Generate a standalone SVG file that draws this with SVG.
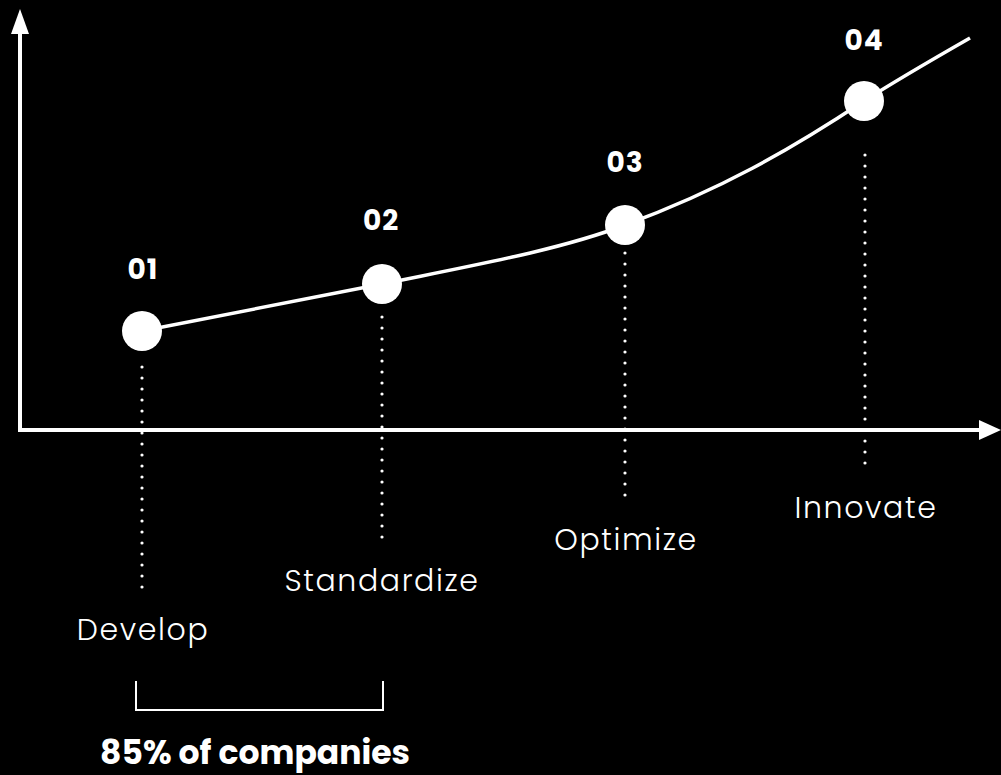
<svg xmlns="http://www.w3.org/2000/svg" width="1001" height="775" viewBox="0 0 1001 775">
<style>
.axis{stroke:#fff;stroke-width:4;fill:none}
.curve{stroke:#fff;stroke-width:3.5;fill:none}
.dots{stroke:#fff;stroke-width:3.2;stroke-linecap:round;stroke-dasharray:0 11;fill:none}
.node{fill:#fff}
.num{font-family:"Poppins","Inter","Liberation Sans",sans-serif;font-weight:700;font-size:28px;fill:#fff;text-anchor:middle;letter-spacing:1px}
.lbl{font-family:"Poppins","Inter","Liberation Sans",sans-serif;font-weight:300;font-size:30px;fill:#fff;text-anchor:middle;letter-spacing:1.6px}
.note{font-family:"Poppins","Inter","Liberation Sans",sans-serif;font-weight:700;font-size:33px;fill:#fff;text-anchor:middle}
</style>
<rect width="1001" height="775" fill="#000"/>
<g id="axes">
<line class="axis" x1="20" y1="430" x2="20" y2="30"/>
<polygon points="20,9 11,34 29,34" fill="#fff"/>
<line class="axis" x1="18" y1="430" x2="982" y2="430"/>
<polygon points="1001,430 979,420 979,440" fill="#fff"/>
</g>
<g id="connectors">
<path class="curve" d="M142,331 L382,284 C470,266 560,250 625,225 C720,190 790,150 864,101 C900,78 935,58 970,38"/>
<line class="dots" x1="142" y1="367" x2="142" y2="592"/>
<line class="dots" x1="382" y1="317" x2="382" y2="542"/>
<line class="dots" x1="625" y1="253" x2="625" y2="506"/>
<line class="dots" x1="865" y1="155" x2="865" y2="470"/>
</g>
<g id="n01"><circle class="node" cx="142" cy="331" r="20"/><text class="num" x="143" y="279">01</text><text class="lbl" x="143" y="640">Develop</text></g>
<g id="n02"><circle class="node" cx="382" cy="284" r="20"/><text class="num" x="381" y="230">02</text><text class="lbl" x="382" y="591">Standardize</text></g>
<g id="n03"><circle class="node" cx="625" cy="225" r="20"/><text class="num" x="625" y="172">03</text><text class="lbl" x="626" y="550">Optimize</text></g>
<g id="n04"><circle class="node" cx="864" cy="101" r="20"/><text class="num" x="864" y="50">04</text><text class="lbl" x="866" y="518">Innovate</text></g>
<g id="bracket">
<path d="M136,681 V710 H383 V681" stroke="#fff" stroke-width="2" fill="none"/>
<text class="note" x="255" y="764">85% of companies</text>
</g>
</svg>
